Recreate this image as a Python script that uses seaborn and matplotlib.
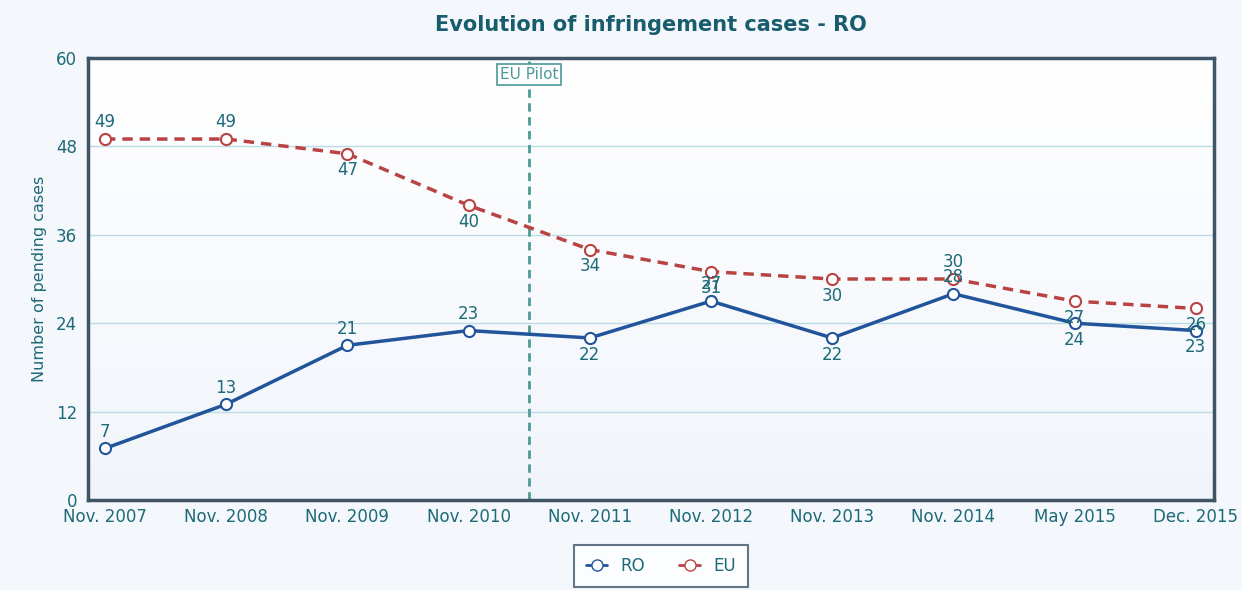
import numpy as np
import pandas as pd
import matplotlib
matplotlib.use("Agg")
import matplotlib.pyplot as plt
import seaborn as sns
from matplotlib.lines import Line2D

# data
periods = ["Nov. 2007", "Nov. 2008", "Nov. 2009", "Nov. 2010", "Nov. 2011",
           "Nov. 2012", "Nov. 2013", "Nov. 2014", "May 2015", "Dec. 2015"]
ro_cases = [7, 13, 21, 23, 22, 27, 22, 28, 24, 23]
eu_cases = [49, 49, 47, 40, 34, 31, 30, 30, 27, 26]
# label above (1) or below (-1) each point
ro_label_side = [1, 1, 1, 1, -1, 1, -1, 1, -1, -1]
eu_label_side = [1, 1, -1, -1, -1, -1, -1, 1, -1, -1]
pilot_pos = 3.5

teal = "#1d6a78"
ro_color = "#21549b"
eu_color = "#b94343"

df = pd.DataFrame({"pos": np.arange(len(periods)), "period": periods,
                   "RO": ro_cases, "EU": eu_cases})

sns.set_style("white")
plt.rcParams["font.family"] = ["DejaVu Sans"]

fig = plt.figure(figsize=(12.42, 5.9), dpi=100)
fig.patch.set_facecolor("#f4f7fb")
ax = fig.add_axes([88 / 1242, 1 - 500 / 590, (1214 - 88) / 1242, (500 - 58) / 590])

# soft gradient in the plot area
grad = np.linspace(1, 0, 256).reshape(-1, 1)
cmap = matplotlib.colors.LinearSegmentedColormap.from_list("bg", ["#f1f5fb", "#ffffff"])
ax.imshow(grad, extent=[-0.14, 9.15, 0, 60], aspect="auto", cmap=cmap, zorder=0)

for v in [12, 24, 36, 48]:
    ax.axhline(v, color="#b9dde6", lw=1, zorder=1)

sns.lineplot(data=df, x="pos", y="RO", ax=ax, color=ro_color, lw=2.5, marker="o",
             markersize=8, markerfacecolor="white", markeredgecolor=ro_color,
             markeredgewidth=1.5, zorder=4)
sns.lineplot(data=df, x="pos", y="EU", ax=ax, color=eu_color, lw=2.5, marker="o",
             markersize=8, markerfacecolor="white", markeredgecolor=eu_color,
             markeredgewidth=1.5, linestyle=(0, (3, 2)), zorder=3)

for x, y, s in zip(df["pos"], ro_cases, ro_label_side):
    ax.annotate(str(y), (x, y), xytext=(0, 12 * s), textcoords="offset points",
                ha="center", va="center", fontsize=12, color=teal, zorder=5)
for x, y, s in zip(df["pos"], eu_cases, eu_label_side):
    ax.annotate(str(y), (x, y), xytext=(0, 12 * s), textcoords="offset points",
                ha="center", va="center", fontsize=12, color=teal, zorder=5)

ax.axvline(pilot_pos, color="#4c9a97", lw=2, linestyle=(0, (3, 2)), zorder=2)
ax.text(pilot_pos, 57.8, "EU Pilot", ha="center", va="center", fontsize=11,
        color="#4c9a97", zorder=6,
        bbox=dict(boxstyle="square,pad=0.2", fc="white", ec="#4c9a97", lw=1.2))

ax.set_xlim(-0.14, 9.15)
ax.set_ylim(0, 60)
ax.set_yticks([0, 12, 24, 36, 48, 60])
ax.set_xticks(df["pos"])
ax.set_xticklabels(periods)
ax.tick_params(axis="both", length=0, labelsize=12, labelcolor=teal)
ax.tick_params(axis="x", pad=6)
ax.tick_params(axis="y", pad=8)
ax.set_xlabel("")
ax.set_ylabel("Number of pending cases", fontsize=11.5, color=teal, labelpad=6)
for sp in ax.spines.values():
    sp.set_color("#3f5566")
    sp.set_linewidth(2.5)

fig.suptitle("Evolution of infringement cases - RO", x=651 / 1242, y=1 - 25 / 590,
             va="center", fontsize=15, fontweight="bold", color="#175d6d")

handles = [
    Line2D([], [], color=ro_color, lw=2, marker="o", markersize=8,
           markerfacecolor="white", markeredgecolor=ro_color),
    Line2D([], [], color=eu_color, lw=2, marker="o", markersize=8,
           markerfacecolor="white", markeredgecolor=eu_color),
]
leg = fig.legend(handles, ["RO", "EU"], loc="center",
                 bbox_to_anchor=(661 / 1242, 1 - 566 / 590), ncol=2, frameon=True,
                 fancybox=False, fontsize=12, handlelength=1.3, columnspacing=2,
                 borderpad=0.7, edgecolor="#3f5566", labelcolor=teal)
leg.get_frame().set_linewidth(1.5)

fig.savefig("out.png", dpi=100, facecolor=fig.get_facecolor())
